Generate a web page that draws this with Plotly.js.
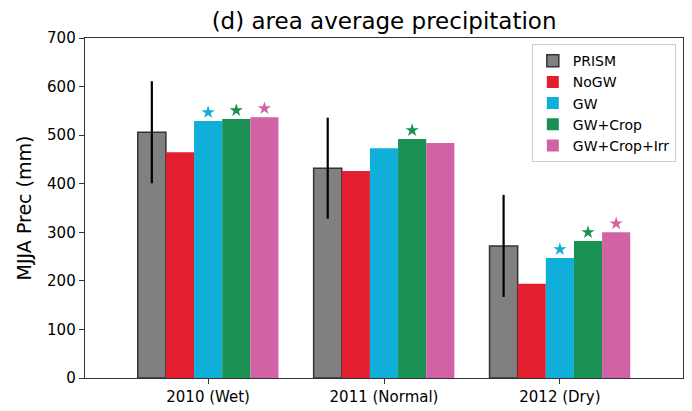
<!DOCTYPE html>
<html><head><meta charset="utf-8">
<script src="https://cdn.plot.ly/plotly-3.0.1.min.js"></script>
<style>body{margin:0;padding:0;background:#fff}#chart{width:692px;height:411px}</style>
</head><body><div id="chart"></div>
<script>
const categories = ["2010 (Wet)", "2011 (Normal)", "2012 (Dry)"];
const seriesNames = ["PRISM", "NoGW", "GW", "GW+Crop", "GW+Crop+Irr"];
const prism = [506, 432, 272];
const prismErr = [105, 104, 105];
const noGW = [465, 426, 194];
const gw = [529, 473, 247];
const gwCrop = [533, 492, 282];
const gwCropIrr = [537, 484, 300];
// significance stars (1 = star drawn above bar)
const sigGW = [1, 0, 1];
const sigGWCrop = [1, 1, 1];
const sigGWCropIrr = [1, 0, 1];

const colors = ["#808080", "#e31e2f", "#0fafda", "#1a9152", "#d163a4"];
const values = [prism, noGW, gw, gwCrop, gwCropIrr];
const sigs = [null, null, sigGW, sigGWCrop, sigGWCropIrr];
const idx = categories.map((c, i) => i);
const barW = 0.16;
const starOffset = 18;

const traces = [];
values.forEach((v, k) => {
  const t = {
    type: "bar", x: idx.map(i => i + (k - 2) * barW), y: v, width: barW,
    name: seriesNames[k],
    marker: {color: colors[k], line: {color: k === 0 ? "#333333" : colors[k], width: k === 0 ? 1.5 : 0}},
    hoverinfo: "y"
  };
  if (k === 0) {
    t.error_y = {type: "data", array: prismErr, visible: true, color: "#000", thickness: 2.2, width: 0};
  }
  traces.push(t);
});
sigs.forEach((s, k) => {
  if (!s) return;
  const xs = [], ys = [];
  s.forEach((f, i) => { if (f) { xs.push(i + (k - 2) * barW); ys.push(values[k][i] + starOffset); } });
  traces.push({type: "scatter", mode: "markers", x: xs, y: ys, showlegend: false,
    marker: {symbol: "star", size: 10, color: colors[k], line: {width: 0}}, hoverinfo: "skip"});
});

const layout = {
  width: 692, height: 411,
  margin: {l: 85, r: 9, t: 38, b: 33},
  paper_bgcolor: "#fff", plot_bgcolor: "#fff",
  font: {family: "DejaVu Sans", color: "#000", size: 15},
  title: {text: "(d) area average precipitation", font: {size: 23, family: "DejaVu Sans"}, x: 0.555, xanchor: "center", y: 0.95, yanchor: "middle"},
  barmode: "overlay",
  showlegend: true,
  legend: {x: 0.988, xanchor: "right", y: 0.982, yanchor: "top", bordercolor: "#cccccc", borderwidth: 1,
    bgcolor: "rgba(255,255,255,0.8)", font: {size: 14}, traceorder: "normal", itemwidth: 30, tracegroupgap: 0},
  xaxis: {range: [-0.7, 2.7], tickvals: idx, ticktext: categories, showgrid: false, zeroline: false,
    showline: true, mirror: true, linecolor: "#333", linewidth: 1.3, ticks: "outside", ticklen: 5, tickcolor: "#333",
    tickfont: {size: 15}},
  yaxis: {range: [0, 700], dtick: 100, showgrid: false, zeroline: false,
    showline: true, mirror: true, linecolor: "#333", linewidth: 1.3, ticks: "outside", ticklen: 5, tickcolor: "#333",
    tickfont: {size: 15},
    title: {text: "MJJA Prec (mm)", font: {size: 19}, standoff: 10}}
};
Plotly.newPlot("chart", traces, layout, {displayModeBar: false, staticPlot: true});
</script></body></html>
